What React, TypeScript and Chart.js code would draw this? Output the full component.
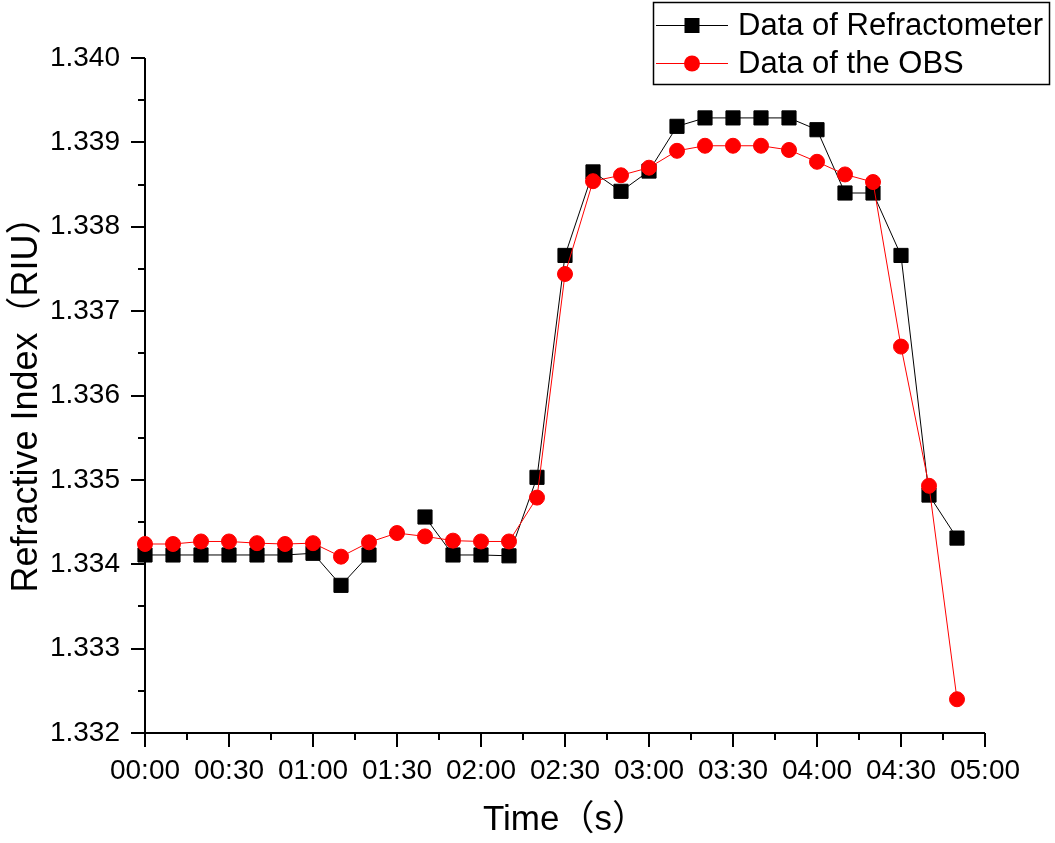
import { useEffect, useRef } from 'react';
import { Chart, registerables } from 'chart.js';

Chart.register(...registerables);

const timeSeconds = [0, 10, 20, 30, 40, 50, 60, 70, 80, 90, 100, 110, 120, 130, 140, 150, 160, 170, 180, 190, 200, 210, 220, 230, 240, 250, 260, 270, 280, 290];

const refractometer = [1.33411, 1.33411, 1.33411, 1.33411, 1.33411, 1.33411, 1.33413, 1.33375, 1.33411, null, 1.33456, 1.33411, 1.33411, 1.3341, 1.33503, 1.33766, 1.33865, 1.33842, 1.33866, 1.33919, 1.33929, 1.33929, 1.33929, 1.33929, 1.33915, 1.3384, 1.3384, 1.33766, 1.33482, 1.33431];

const obs = [1.33424, 1.33424, 1.33427, 1.33427, 1.33425, 1.33424, 1.33425, 1.33409, 1.33426, 1.33437, 1.33433, 1.33428, 1.33427, 1.33427, 1.33479, 1.33744, 1.33854, 1.33861, 1.3387, 1.3389, 1.33896, 1.33896, 1.33896, 1.33891, 1.33877, 1.33862, 1.33853, 1.33658, 1.33493, 1.3324];

const seriesNames = ['Data of Refractometer', 'Data of the OBS'];
const xTickLabels = ['00:00', '00:30', '01:00', '01:30', '02:00', '02:30', '03:00', '03:30', '04:00', '04:30', '05:00'];
const yTickLabels = ['1.332', '1.333', '1.334', '1.335', '1.336', '1.337', '1.338', '1.339', '1.340'];
const xTitle = 'Time（s）';
const yTitle = 'Refractive Index（RIU）';

const FONT = "'Liberation Sans', Arial, 'Noto Sans CJK SC', sans-serif";

const axesPlugin = {
  id: 'originAxes',
  beforeDatasetsDraw(chart: any) {
    const ctx = chart.ctx;
    const xs = chart.scales.x;
    const ys = chart.scales.y;
    const { left, right, top, bottom } = chart.chartArea;
    ctx.save();
    ctx.strokeStyle = '#000';
    ctx.lineWidth = 2;
    ctx.beginPath();
    ctx.moveTo(left, top);
    ctx.lineTo(left, bottom);
    ctx.lineTo(right, bottom);
    ctx.stroke();
    for (let v = xs.min; v <= xs.max + 0.001; v += 15) {
      const px = Math.round(xs.getPixelForValue(v));
      const major = Math.abs(v % 30) < 0.001;
      ctx.beginPath();
      ctx.moveTo(px, bottom);
      ctx.lineTo(px, bottom + (major ? 14 : 7));
      ctx.stroke();
    }
    for (let i = 0; i <= 16; i++) {
      const v = ys.min + i * 0.0005;
      const py = Math.round(ys.getPixelForValue(v));
      const major = i % 2 === 0;
      ctx.beginPath();
      ctx.moveTo(left, py);
      ctx.lineTo(left - (major ? 14 : 7), py);
      ctx.stroke();
    }
    ctx.restore();
  },
};

const legendPlugin = {
  id: 'boxLegend',
  afterDraw(chart: any) {
    const ctx = chart.ctx;
    const bx = 653.5, by = 2.5, bw = 396, bh = 82;
    ctx.save();
    ctx.fillStyle = '#fff';
    ctx.fillRect(bx, by, bw, bh);
    ctx.strokeStyle = '#000';
    ctx.lineWidth = 1.5;
    ctx.strokeRect(bx, by, bw, bh);
    const rows = [25, 63];
    chart.data.datasets.forEach((ds: any, i: number) => {
      const y = rows[i];
      ctx.strokeStyle = ds.borderColor;
      ctx.lineWidth = 1;
      ctx.beginPath();
      ctx.moveTo(656, y + 0.5);
      ctx.lineTo(728, y + 0.5);
      ctx.stroke();
      ctx.fillStyle = ds.pointBackgroundColor;
      if (ds.pointStyle === 'rect') {
        ctx.fillRect(692 - 7.5, y - 7, 15, 15);
      } else {
        ctx.beginPath();
        ctx.arc(692, y + 0.5, 8, 0, Math.PI * 2);
        ctx.fill();
      }
      ctx.fillStyle = '#000';
      ctx.font = `31px ${FONT}`;
      ctx.textBaseline = 'middle';
      ctx.textAlign = 'left';
      ctx.fillText(ds.label, 738, y + 1);
    });
    ctx.restore();
  },
};

export default function App() {
  const ref = useRef<HTMLCanvasElement | null>(null);
  useEffect(() => {
    document.body.style.margin = '0';
    const canvas = ref.current;
    if (!canvas) return;
    const chart = new Chart(canvas, {
      type: 'line',
      data: {
        datasets: [
          {
            label: seriesNames[0],
            data: timeSeconds.map((t, i) => ({ x: t, y: refractometer[i] })),
            borderColor: '#000000',
            backgroundColor: '#000000',
            pointBackgroundColor: '#000000',
            pointBorderColor: '#000000',
            pointStyle: 'rect',
            pointRadius: 10,
            pointBorderWidth: 1,
            borderWidth: 1,
            spanGaps: false,
            clip: false,
            order: 2,
          },
          {
            label: seriesNames[1],
            data: timeSeconds.map((t, i) => ({ x: t, y: obs[i] })),
            borderColor: '#ff0000',
            backgroundColor: '#ff0000',
            pointBackgroundColor: '#ff0000',
            pointBorderColor: '#ff0000',
            pointStyle: 'circle',
            pointRadius: 7.5,
            pointBorderWidth: 1,
            borderWidth: 1,
            clip: false,
            order: 1,
          },
        ] as any,
      },
      options: {
        animation: false,
        responsive: false,
        events: [],
        layout: { padding: { top: 58, right: 70, left: 0, bottom: 0 } },
        plugins: { legend: { display: false }, tooltip: { enabled: false } },
        scales: {
          x: {
            type: 'linear',
            min: 0,
            max: 300,
            grid: { display: false },
            border: { display: false },
            afterFit: (s: any) => { s.height = 110; },
            ticks: {
              stepSize: 30,
              maxRotation: 0,
              autoSkip: false,
              padding: 13,
              color: '#000',
              font: { family: FONT, size: 28 },
              callback: (_v: any, i: number) => xTickLabels[i],
            },
            title: {
              display: true,
              text: xTitle,
              color: '#000',
              font: { family: FONT, size: 35 },
              padding: { top: 0, bottom: 2 },
            },
          },
          y: {
            type: 'linear',
            min: 1.332,
            max: 1.34,
            grid: { display: false },
            border: { display: false },
            afterFit: (s: any) => { s.width = 145; },
            ticks: {
              stepSize: 0.001,
              autoSkip: false,
              padding: 17,
              color: '#000',
              font: { family: FONT, size: 28 },
              callback: (_v: any, i: number) => yTickLabels[i],
            },
            title: {
              display: true,
              text: yTitle,
              color: '#000',
              font: { family: FONT, size: 36 },
              padding: { top: 5, bottom: 0 },
            },
          },
        },
      } as any,
      plugins: [axesPlugin, legendPlugin],
    });
    return () => chart.destroy();
  }, []);
  return (
    <div style={{ width: 1055, height: 843, background: '#fff' }}>
      <canvas ref={ref} width={1055} height={843} style={{ display: 'block' }} />
    </div>
  );
}
